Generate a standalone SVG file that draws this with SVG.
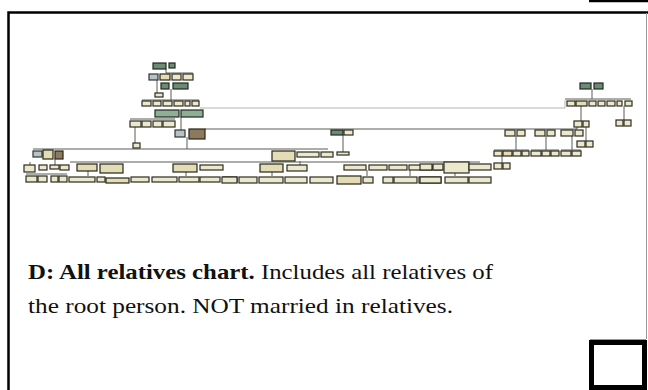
<svg xmlns="http://www.w3.org/2000/svg" width="648" height="390" viewBox="0 0 648 390">
<style>
.ln{stroke:#5a5a52;stroke-width:1;fill:none}
.lt{stroke:#b5b5ad;stroke-width:1;fill:none}
.g{fill:#6d8a74;stroke:#1f2820;stroke-width:1.2}
.gl{fill:#8fae96;stroke:#1f2820;stroke-width:1.2}
.t{fill:#e3dcb4;stroke:#25251a;stroke-width:1.2}
.c{fill:#ece8cc;stroke:#2c2c22;stroke-width:1.2}
.b{fill:#8b7b5c;stroke:#2a2418;stroke-width:1.2}
.s{fill:#b9c2c2;stroke:#2c3434;stroke-width:1.2}
.txt{font-family:"Liberation Serif","Times New Roman",serif;font-size:21px;fill:#111}
</style>
<rect width="648" height="390" fill="#fff"/>
<path d="M8.5,391 V12.5 H648" stroke="#000" stroke-width="2.5" fill="none"/>
<line x1="646.5" y1="13" x2="646.5" y2="339" stroke="#999" stroke-width="1"/>
<line x1="590" y1="339.5" x2="646" y2="339.5" stroke="#999" stroke-width="1"/>
<line x1="589" y1="1" x2="648" y2="1" stroke="#000" stroke-width="2.5"/>
<rect id="corner-box" x="591.5" y="342.5" width="53" height="45" fill="#fff" stroke="#000" stroke-width="5"/>

<g id="connectors">
<path class="ln" d="M166,69 V73 H193 M157,80 V93 M171,89 V100 M142,100 H199 M181,117 V130 M130,119 H175 M135,127 V143 M187,137 V149"/>
<path class="lt" d="M200,108 H565 V100"/>
<path class="ln" d="M205,129 H577 V126 M33,149 H328 M343,135 V152"/>
<path class="ln" d="M70,162 H480 M26,174 H67 M30,162 V165 M55,159 V165 M88,171 V176 M186,172 V176 M272,172 V176 M300,161 V165 M367,170 V176 M455,173 V176 M410,170 V176"/>
<path class="ln" d="M592,89 V99 M565,99 H631 M581,106 V121 M586,127 V141 M624,106 V120 M516,136 V150 M546,136 V150 M572,136 V150 M494,150 H529 M531,150 H559 M561,150 H581 M502,156 V163"/>
</g>

<g id="chart">
<rect class="g" x="153" y="63" width="13" height="6"/>
<rect class="g" x="169" y="63" width="6" height="5"/>
<rect class="s" x="149" y="74" width="9" height="6"/>
<rect class="t" x="160" y="74" width="10" height="6"/>
<rect class="c" x="172" y="74" width="9" height="6"/>
<rect class="c" x="183" y="74" width="10" height="6"/>
<rect class="g" x="161" y="83" width="8" height="6"/>
<rect class="g" x="173" y="83" width="15" height="6"/>
<rect class="c" x="155" y="93" width="8" height="4"/>
<rect class="c" x="142" y="101" width="9" height="5"/>
<rect class="c" x="153" y="101" width="8" height="5"/>
<rect class="c" x="163" y="101" width="9" height="5"/>
<rect class="c" x="174" y="101" width="9" height="5"/>
<rect class="c" x="185" y="101" width="5" height="5"/>
<rect class="c" x="192" y="101" width="7" height="5"/>
<rect class="gl" x="155" y="110" width="24" height="7"/>
<rect class="gl" x="181" y="110" width="22" height="7"/>
<rect class="c" x="130" y="121" width="11" height="6"/>
<rect class="c" x="142" y="121" width="9" height="6"/>
<rect class="c" x="153" y="121" width="9" height="6"/>
<rect class="c" x="163" y="121" width="12" height="6"/>
<rect class="c" x="133" y="143" width="7" height="5"/>
<rect class="s" x="175" y="130" width="10" height="7"/>
<rect class="b" x="189" y="129" width="16" height="10"/>

<rect class="s" x="33" y="151" width="9" height="6"/>
<rect class="t" x="43" y="150" width="10" height="9"/>
<rect class="b" x="55" y="151" width="8" height="8"/>
<rect class="c" x="24" y="165" width="11" height="7"/>
<rect class="c" x="39" y="165" width="8" height="5"/>
<rect class="c" x="50" y="165" width="9" height="4"/>
<rect class="c" x="60" y="165" width="9" height="5"/>
<rect class="c" x="26" y="176" width="11" height="6"/>
<rect class="c" x="38" y="176" width="9" height="6"/>
<rect class="c" x="51" y="176" width="7" height="6"/>
<rect class="c" x="59" y="176" width="8" height="6"/>
<rect class="t" x="77" y="164" width="20" height="7"/>
<rect class="t" x="100" y="164" width="23" height="9"/>
<rect class="c" x="69" y="177" width="26" height="5"/>
<rect class="c" x="97" y="177" width="8" height="5"/>
<rect class="t" x="106" y="178" width="23" height="5"/>
<rect class="c" x="131" y="177" width="18" height="5"/>
<rect class="t" x="173" y="164" width="24" height="8"/>
<rect class="c" x="200" y="165" width="23" height="5"/>
<rect class="c" x="152" y="177" width="25" height="5"/>
<rect class="c" x="179" y="177" width="20" height="5"/>
<rect class="c" x="200" y="177" width="20" height="5"/>
<rect class="c" x="223" y="177" width="14" height="5"/>

<rect class="t" x="272" y="151" width="23" height="10"/>
<rect class="c" x="297" y="152" width="22" height="5"/>
<rect class="c" x="321" y="152" width="12" height="5"/>
<rect class="g" x="331" y="130" width="12" height="5"/>
<rect class="c" x="344" y="130" width="9" height="5"/>
<rect class="c" x="337" y="152" width="12" height="3"/>
<rect class="t" x="260" y="164" width="23" height="8"/>
<rect class="c" x="287" y="165" width="20" height="6"/>
<rect class="c" x="344" y="165" width="22" height="5"/>
<rect class="c" x="369" y="165" width="18" height="5"/>
<rect class="c" x="389" y="165" width="18" height="5"/>
<rect class="c" x="409" y="165" width="23" height="5"/>
<rect class="c" x="434" y="165" width="8" height="5"/>
<rect class="c" x="222" y="177" width="15" height="6"/>
<rect class="c" x="239" y="177" width="18" height="6"/>
<rect class="c" x="259" y="177" width="24" height="6"/>
<rect class="c" x="285" y="177" width="22" height="6"/>
<rect class="c" x="310" y="177" width="23" height="6"/>
<rect class="t" x="337" y="176" width="24" height="8"/>
<rect class="c" x="363" y="177" width="10" height="6"/>
<rect class="c" x="383" y="177" width="10" height="6"/>
<rect class="c" x="394" y="177" width="23" height="6"/>
<rect class="c" x="419" y="177" width="22" height="6"/>
<rect class="c" x="444" y="162" width="25" height="11"/>
<rect class="c" x="469" y="164" width="22" height="6"/>
<rect class="c" x="445" y="177" width="23" height="6"/>
<rect class="c" x="469" y="177" width="22" height="6"/>

<rect class="g" x="580" y="83" width="11" height="6"/>
<rect class="g" x="594" y="83" width="9" height="6"/>
<rect class="c" x="567" y="101" width="8" height="5"/>
<rect class="t" x="576" y="101" width="11" height="5"/>
<rect class="c" x="589" y="101" width="7" height="5"/>
<rect class="c" x="598" y="101" width="7" height="5"/>
<rect class="c" x="607" y="101" width="8" height="5"/>
<rect class="c" x="617" y="101" width="5" height="5"/>
<rect class="c" x="625" y="101" width="7" height="5"/>
<rect class="c" x="574" y="121" width="8" height="6"/>
<rect class="c" x="583" y="121" width="6" height="6"/>
<rect class="c" x="577" y="141" width="8" height="6"/>
<rect class="c" x="586" y="141" width="7" height="6"/>
<rect class="c" x="616" y="120" width="7" height="6"/>
<rect class="c" x="624" y="120" width="7" height="6"/>
<rect class="c" x="505" y="130" width="10" height="6"/>
<rect class="c" x="517" y="130" width="8" height="6"/>
<rect class="c" x="535" y="130" width="10" height="6"/>
<rect class="c" x="547" y="130" width="8" height="6"/>
<rect class="c" x="561" y="130" width="12" height="6"/>
<rect class="c" x="575" y="130" width="8" height="6"/>
<rect class="c" x="494" y="151" width="8" height="5"/>
<rect class="t" x="503" y="151" width="9" height="5"/>
<rect class="c" x="513" y="151" width="8" height="5"/>
<rect class="c" x="522" y="151" width="7" height="5"/>
<rect class="c" x="531" y="151" width="10" height="5"/>
<rect class="c" x="542" y="151" width="8" height="5"/>
<rect class="c" x="551" y="151" width="8" height="5"/>
<rect class="c" x="561" y="151" width="10" height="5"/>
<rect class="c" x="572" y="151" width="9" height="5"/>
<rect class="c" x="494" y="163" width="8" height="6"/>
<rect class="c" x="503" y="163" width="7" height="6"/>
<rect class="c" x="420" y="164" width="12" height="6"/>
<rect class="c" x="433" y="164" width="10" height="6"/>
<rect class="c" x="420" y="177" width="21" height="6"/>
</g>

<g id="caption">
<text class="txt" x="28" y="279" font-size="22" textLength="465" lengthAdjust="spacingAndGlyphs"><tspan font-weight="bold">D: All relatives chart.</tspan> Includes all relatives of</text>
<text class="txt" x="28" y="313" font-size="22" textLength="425" lengthAdjust="spacingAndGlyphs">the root person. NOT married in relatives.</text>
</g>
</svg>
